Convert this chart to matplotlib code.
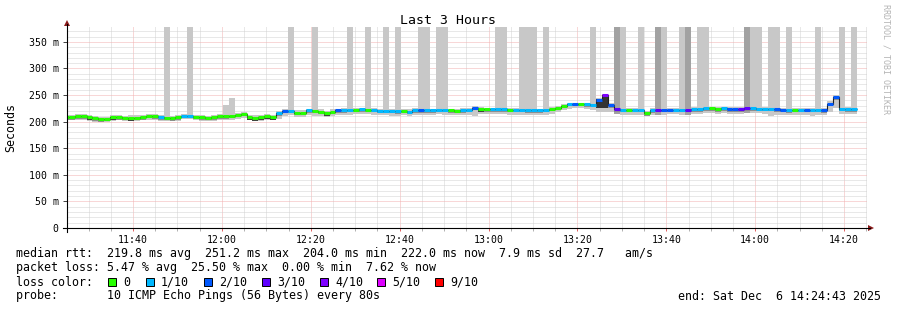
import numpy as np
import pandas as pd
import matplotlib
matplotlib.use("Agg")
import matplotlib.pyplot as plt
import matplotlib.dates as mdates
from matplotlib.lines import Line2D
from matplotlib.patches import Polygon, Rectangle
from matplotlib.ticker import MultipleLocator, FuncFormatter

plt.rcParams['font.family'] = ['DejaVu Sans Mono']

# smokeping samples, one every 80 s
first_sample = "2025-12-06 11:24:13"
step_s = 80
view_start = "2025-12-06 11:25:09"
view_end = "2025-12-06 14:25:09"

# median rtt per sample (ms)
median_ms = [
    208, 208, 210, 210, 208, 206.5, 204.5, 205, 208, 208,
    207, 207.5, 207.5, 208.5, 210.5, 210, 208, 207.5, 206.5, 208,
    211, 211, 209.5, 208, 207.5, 208, 210, 210, 211, 212.5,
    214.5, 209, 207.5, 208, 210.5, 209.5, 216, 220, 220, 217,
    217, 221, 220, 219, 216, 219, 221, 221, 222, 222,
    223, 222.5, 222, 220, 220, 220, 219.5, 220, 219, 221,
    221, 221, 221, 222.5, 222, 221, 220, 221.5, 222, 226,
    223, 223, 223, 223, 223, 222, 222.5, 222.5, 221, 221,
    221, 222, 224.5, 226, 230, 233, 233, 233, 232.5, 231.5,
    240, 251, 231, 223, 222.5, 222.5, 222, 222, 216, 221.5,
    222, 222, 222, 222, 222, 222, 223.5, 223.5, 225, 225,
    223.5, 225, 223.5, 223.5, 223.5, 225, 225, 224.5, 224.5, 224,
    223, 222, 221, 222, 222, 222, 222, 222, 221.5, 234,
    246, 224, 223.5, 223.5,
]

# lost pings out of 10 per sample
loss = [
    0, 0, 0, 0, 0, 0, 0, 0, 0, 0,
    0, 0, 0, 0, 0, 0, 1, 0, 0, 0,
    1, 1, 0, 0, 0, 0, 0, 0, 0, 0,
    0, 0, 0, 0, 0, 0, 1, 2, 1, 0,
    0, 1, 0, 0, 0, 0, 2, 1, 1, 0,
    1, 0, 1, 1, 1, 1, 1, 0, 1, 1,
    2, 1, 1, 1, 1, 0, 0, 1, 1, 2,
    0, 0, 1, 1, 1, 0, 1, 1, 1, 1,
    1, 1, 0, 0, 0, 1, 2, 0, 1, 1,
    2, 4, 2, 3, 1, 0, 1, 1, 0, 1,
    3, 2, 2, 1, 1, 3, 1, 1, 1, 0,
    0, 1, 2, 2, 3, 3, 1, 1, 1, 1,
    2, 2, 1, 0, 1, 2, 1, 1, 2, 2,
    2, 1, 1, 1,
]

# smoke (spread of the 10 pings), 400 = off the top of the graph
smoke_lo = [
    203, 203, 204, 204, 201, 200, 199, 199, 202, 203,
    201, 202, 201, 203, 204, 204, 202, 201, 201, 202,
    205, 205, 203, 202, 202, 202, 204, 203, 204, 205,
    206, 203, 201, 202, 204, 203, 205, 211, 212, 209,
    209, 212, 211, 211, 208, 210, 212, 213, 213, 214,
    214, 214, 213, 212, 212, 211, 211, 212, 211, 212,
    212, 213, 212, 214, 213, 213, 212, 212, 212, 211,
    214, 215, 214, 214, 214, 213, 213, 212, 212, 213,
    213, 213, 215, 218, 222, 224, 225, 225, 224, 222,
    218, 218, 219, 214, 213, 213, 213, 212, 210, 212,
    213, 213, 214, 214, 213, 213, 215, 214, 216, 216,
    215, 216, 214, 214, 215, 216, 216, 216, 215, 211,
    213, 213, 212, 213, 213, 213, 211, 212, 212, 218,
    226, 214, 214, 215,
]
smoke_hi = [
    212, 213, 214, 215, 213, 210, 208, 209, 212, 212,
    211, 212, 212, 213, 214, 214, 212, 400, 210, 212,
    214, 400, 213, 212, 211, 212, 214, 231, 245, 216,
    218, 213, 212, 212, 214, 213, 220, 224, 400, 221,
    221, 224, 400, 223, 220, 223, 224, 225, 400, 226,
    226, 400, 226, 224, 400, 224, 400, 223, 223, 225,
    400, 400, 224, 400, 400, 224, 223, 225, 226, 229,
    227, 226, 226, 400, 400, 226, 226, 400, 400, 400,
    224, 400, 228, 230, 234, 236, 236, 236, 236, 400,
    245, 252, 236, 400, 400, 226, 225, 400, 220, 225,
    400, 400, 225, 225, 400, 400, 227, 400, 400, 228,
    227, 228, 227, 227, 227, 400, 400, 400, 228, 400,
    400, 226, 400, 226, 226, 226, 226, 400, 225, 238,
    250, 400, 227, 400,
]
dark_spikes = [93, 100, 105, 115]
dark_core = [4, 8, 11, 31, 32, 33, 34, 35, 44, 70]
black_smoke_idx = [90, 91]
black_smoke_lo = [226, 226]
black_smoke_hi = [243, 251]

loss_labels = ["0", "1/10", "2/10", "3/10", "4/10", "5/10", "9/10"]
loss_colors = ["#26ff00", "#00b8ff", "#0059ff", "#5e00ff", "#7e00ff", "#dd00ff", "#ff0000"]
loss_color_of = {0: "#26ff00", 1: "#00b8ff", 2: "#0059ff", 3: "#5e00ff",
                 4: "#7e00ff", 5: "#dd00ff", 9: "#ff0000"}

legend_rtt = "median rtt:  219.8 ms avg  251.2 ms max  204.0 ms min  222.0 ms now  7.9 ms sd  27.7   am/s"
legend_loss = "packet loss: 5.47 % avg  25.50 % max  0.00 % min  7.62 % now"
legend_probe = "probe:       10 ICMP Echo Pings (56 Bytes) every 80s"
end_text = "end: Sat Dec  6 14:24:43 2025"

W, H = 897, 310


def fx(px):
    return px / W


def fy(py):
    return 1 - py / H


fig = plt.figure(figsize=(W / 100, H / 100), dpi=100)
fig.patch.set_facecolor("white")
ax = fig.add_axes([fx(67), fy(228), 800 / W, 201 / H])

n = len(median_ms)
edges = pd.date_range(first_sample, periods=n + 1, freq=f"{step_s}s")
xe = mdates.date2num(edges.to_pydatetime())
x0, x1 = xe[:-1], xe[1:]
wid = x1 - x0
med = np.array(median_ms, dtype=float)
lo = np.array(smoke_lo, dtype=float)
hi = np.array(smoke_hi, dtype=float)

# smoke
shade = ["#c8c8c8"] * n
for i in dark_spikes:
    shade[i] = "#a2a2a2"
ax.bar(x0, hi - lo, bottom=lo, width=wid, align="edge", color=shade, linewidth=0, zorder=2)
ax.bar(x0, 4.5, bottom=med - 4.5, width=wid, align="edge", color="#8e8e8e", linewidth=0, zorder=2.5)
ax.bar(x0[dark_core], 5.5, bottom=med[dark_core] - 5.5, width=wid[dark_core], align="edge",
       color="#404040", linewidth=0, zorder=2.6)
ax.bar(x0[black_smoke_idx], np.array(black_smoke_hi) - np.array(black_smoke_lo),
       bottom=black_smoke_lo, width=wid[black_smoke_idx], align="edge",
       color="#333333", linewidth=0, zorder=2.7)

# median line: thin dark step plus loss-coloured segments
ax.stairs(med, xe, baseline=None, color="#202020", lw=0.8, zorder=4)
ax.hlines(med, x0, x1, colors=[loss_color_of[l] for l in loss], lw=2.2, zorder=5,
          capstyle="butt")

t_start = mdates.date2num(pd.Timestamp(view_start).to_pydatetime())
t_end = mdates.date2num(pd.Timestamp(view_end).to_pydatetime())
ax.set_xlim(t_start, t_end)
ax.set_ylim(0, 378)

ax.xaxis.set_major_locator(mdates.MinuteLocator(byminute=[0, 20, 40]))
ax.xaxis.set_minor_locator(mdates.MinuteLocator(byminute=range(0, 60, 5)))
ax.xaxis.set_major_formatter(mdates.DateFormatter("%H:%M"))
ax.yaxis.set_major_locator(MultipleLocator(50))
ax.yaxis.set_minor_locator(MultipleLocator(10))
ax.yaxis.set_major_formatter(FuncFormatter(lambda v, p: "0" if v == 0 else f"{int(v)} m"))

# dotted grid, like rrdtool
ax.set_axisbelow(True)
ax.grid(True, which="major", color="#f2b0b0", lw=0.72, ls=(0, (1, 1)))
ax.grid(True, which="minor", color="#d2d2d2", lw=0.72, ls=(0, (1, 1)))

ax.tick_params(axis="y", which="major", length=3, width=0.7, color="#404040", pad=3,
               labelsize=7.1)
ax.tick_params(axis="y", which="minor", length=0)
ax.tick_params(axis="x", which="major", length=2, width=0.7, color="#e06060", pad=3,
               labelsize=7.1)
ax.tick_params(axis="x", which="minor", length=2, width=0.7, color="#b0b0b0")
for s in ax.spines.values():
    s.set_visible(False)

# axis lines with arrow heads
fig.add_artist(Line2D([fx(63), fx(870)], [fy(228), fy(228)], color="black", lw=0.8))
fig.add_artist(Line2D([fx(67), fx(67)], [fy(232), fy(24)], color="black", lw=0.8))
fig.add_artist(Polygon([[fx(868), fy(225)], [fx(874), fy(228)], [fx(868), fy(231)]],
                       closed=True, color="#8b1a1a", lw=0))
fig.add_artist(Polygon([[fx(64), fy(26)], [fx(67), fy(20)], [fx(70), fy(26)]],
                       closed=True, color="#8b1a1a", lw=0))

# texts
fig.text(fx(448), fy(20), "Last 3 Hours", ha="center", va="center", fontsize=9.5)
fig.text(fx(11), fy(127), "Seconds", ha="center", va="center", rotation=90, fontsize=8.4)
fig.text(fx(886), fy(4), "RRDTOOL / TOBI OETIKER", ha="center", va="top", rotation=270,
         fontsize=6, color="#b4b4b4")

fig.text(fx(16), fy(254), legend_rtt, ha="left", va="center", fontsize=8.4)
fig.text(fx(16), fy(268), legend_loss, ha="left", va="center", fontsize=8.4)
fig.text(fx(16), fy(282), "loss color:", ha="left", va="center", fontsize=8.4)
fig.text(fx(16), fy(296), legend_probe, ha="left", va="center", fontsize=8.4)
fig.text(fx(881), fy(296), end_text, ha="right", va="center", fontsize=8.4)

box_x = [108, 146, 204, 262, 320, 377, 435]
for bx, lab, col in zip(box_x, loss_labels, loss_colors):
    fig.add_artist(Rectangle((fx(bx), fy(286)), 8 / W, 8 / H, facecolor=col,
                             edgecolor="black", lw=0.7))
    fig.text(fx(bx + 15), fy(282), lab, ha="left", va="center", fontsize=8.4)

fig.savefig("out.png", dpi=100)
